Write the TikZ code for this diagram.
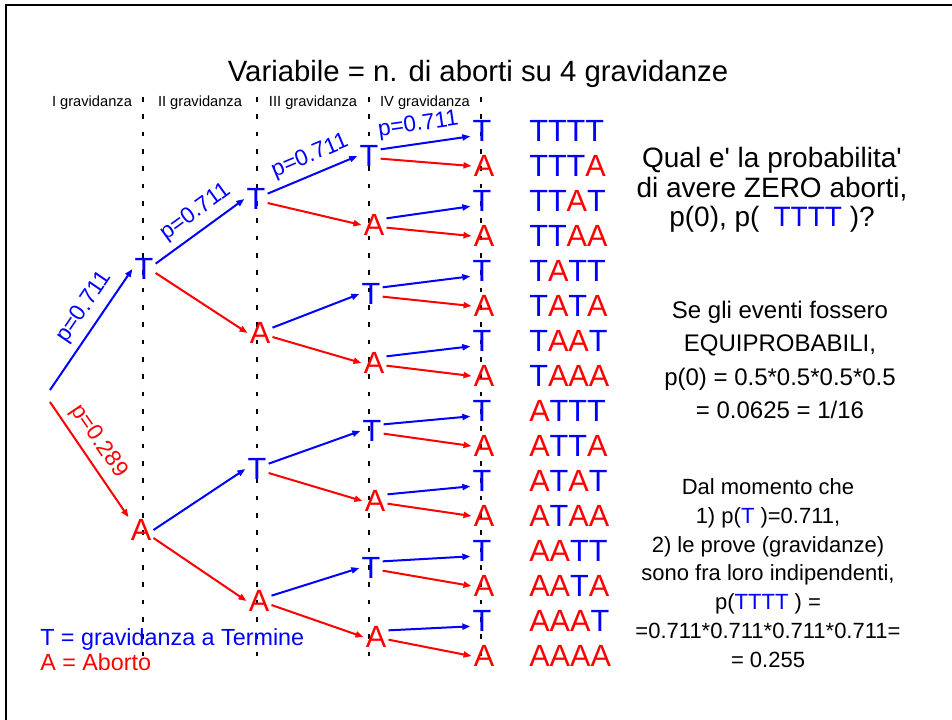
\documentclass[tikz,border=0pt]{standalone}
\usepackage{fontspec}
\setmainfont{Liberation Sans}[Ligatures=TeXOff]
\usetikzlibrary{arrows.meta}

\newcommand{\tT}{{\color{blue}T}}
\newcommand{\tA}{{\color{red}A}}

\begin{document}
\begin{tikzpicture}[x=0.75pt, y=-0.75pt,
  letter/.style={font=\fontsize{23}{27}\selectfont, inner sep=1.5pt},
  tnode/.style={letter, text=blue},
  anode/.style={letter, text=red},
  tedge/.style={draw=blue, line width=1.5pt, -{Triangle[length=6pt,width=4.5pt]}},
  aedge/.style={draw=red, line width=1.5pt, -{Triangle[length=6pt,width=4.5pt]}},
  plabel/.style={font=\fontsize{17}{20}\selectfont, sloped, above=4pt, inner sep=1pt},
  header/.style={font=\fontsize{11}{13}\selectfont, anchor=base},
  guide/.style={dash pattern=on 3.5pt off 9.5pt, line width=1pt}
]
\useasboundingbox (0,0) rectangle (952,720);
\draw[line width=2pt] (6,720) -- (6,5) -- (952,5);

% title and column headers
\node[anchor=base, font=\fontsize{22}{26}\selectfont] (title) at (478,82)
{Variabile = n. di aborti su 4 gravidanze};
\node[header] (h1) at (92,107) {I gravidanza};
\node[header] (h2) at (200,107) {II gravidanza};
\node[header] (h3) at (313,107) {III gravidanza};
\node[header] (h4) at (425,107) {IV gravidanza};
\foreach \x in {143,257,369,481}{
\draw[guide] (\x,97) -- (\x,660);
}

% tree
\coordinate (root) at (50,396);
\node[tnode] (t) at (144,269) {T};
\node[anode] (a) at (141,530) {A};
\node[tnode] (tt) at (256,199) {T};
\node[anode] (ta) at (260,333) {A};
\node[tnode] (at) at (257,469) {T};
\node[anode] (aa) at (259,601) {A};
\node[tnode] (ttt) at (369,156) {T};
\node[anode] (tta) at (374,225) {A};
\node[tnode] (tat) at (371,294) {T};
\node[anode] (taa) at (374,363) {A};
\node[tnode] (att) at (372,431) {T};
\node[anode] (ata) at (375,501) {A};
\node[tnode] (aat) at (371,568) {T};
\node[anode] (aaa) at (376,637) {A};

\draw[tedge] ([yshift=4.5pt]root) -- node[plabel, text=blue, pos=0.6] {p=0.711} (t.west);
\draw[aedge] ([yshift=-4.5pt]root) -- node[plabel, text=red, pos=0.43] {p=0.289} (a.north west);
\draw[tedge] ([yshift=4pt]t.east) -- node[plabel, text=blue, pos=0.57] {p=0.711} (tt.west);
\draw[aedge] ([yshift=-3pt]t.east) -- (ta.west);
\draw[tedge] (a.east) -- (at.west);
\draw[aedge] ([yshift=-6pt]a.east) -- (aa.west);
\draw[tedge] ([yshift=4pt]tt.east) -- node[plabel, text=blue, pos=0.55] {p=0.711} (ttt.west);
\draw[aedge] ([yshift=-3pt]tt.east) -- (tta.west);
\draw[tedge] ([yshift=4pt]ta.east) -- (tat.west);
\draw[aedge] ([yshift=-3pt]ta.east) -- (taa.west);
\draw[tedge] ([yshift=4pt]at.east) -- (att.west);
\draw[aedge] ([yshift=-3pt]at.east) -- (ata.west);
\draw[tedge] ([yshift=4pt]aa.east) -- (aat.west);
\draw[aedge] ([yshift=-3pt]aa.east) -- (aaa.west);

% leaves
\foreach \p [count=\i from 0] in {ttt,tta,tat,taa,att,ata,aat,aaa}{
\node[tnode] (\p t) at (482,{131+70*\i}) {T};
\node[anode] (\p a) at (484,{166+70*\i}) {A};
\draw[tedge] ([yshift=5pt]\p.east) -- ([yshift=-4pt]\p t.west);
\draw[aedge] ([yshift=-2pt]\p.east) -- (\p a.west);
}
\path ([yshift=5pt]ttt.east) -- node[plabel, above=1pt, text=blue, pos=0.45] {p=0.711} ([yshift=-4pt]tttt.west);

% sequences
\foreach \n/\s [count=\i from 0] in {
tttt/\tT\tT\tT\tT, ttta/\tT\tT\tT\tA, ttat/\tT\tT\tA\tT, ttaa/\tT\tT\tA\tA,
tatt/\tT\tA\tT\tT, tata/\tT\tA\tT\tA, taat/\tT\tA\tA\tT, taaa/\tT\tA\tA\tA,
attt/\tA\tT\tT\tT, atta/\tA\tT\tT\tA, atat/\tA\tT\tA\tT, ataa/\tA\tT\tA\tA,
aatt/\tA\tA\tT\tT, aata/\tA\tA\tT\tA, aaat/\tA\tA\tA\tT, aaaa/\tA\tA\tA\tA}{
\node[letter, anchor=west] (s\n) at (527,{131+35*\i}) {\s};
}

% text on the right
\node[align=center, font=\fontsize{21}{22}\selectfont] (question) at (772,190)
{Qual e' la probabilita'\\di avere ZERO aborti,\\p(0), p(\enspace{\color{blue}TTTT} )?};
\node[align=center, font=\fontsize{18}{25}\selectfont] (equi) at (780,360)
{Se gli eventi fossero\\EQUIPROBABILI,\\p(0) = 0.5*0.5*0.5*0.5\\= 0.0625 = 1/16};
\node[align=center, font=\fontsize{16.5}{21.6}\selectfont] (calc) at (768,573)
{Dal momento che\\1) p({\color{blue}T} )=0.711,\\2) le prove (gravidanze)\\sono fra loro indipendenti,\\p({\color{blue}TTTT} ) =\\=0.711*0.711*0.711*0.711=\\= 0.255};

% legend
\node[anchor=base west, text=blue, font=\fontsize{17.5}{20}\selectfont, inner sep=0pt] (legT) at (40,645)
{T = gravidanza a Termine};
\node[anchor=base west, text=red, font=\fontsize{17.5}{20}\selectfont, inner sep=0pt] (legA) at (40,670)
{A = Aborto};
\end{tikzpicture}
\end{document}
